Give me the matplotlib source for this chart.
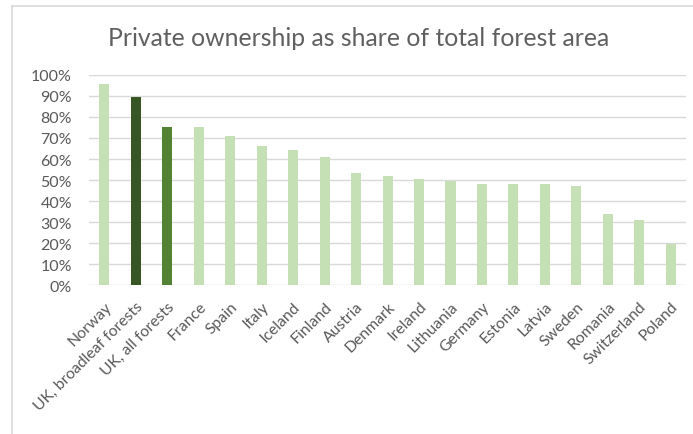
import matplotlib.pyplot as plt
from matplotlib.lines import Line2D
from matplotlib.ticker import PercentFormatter

# data
countries = [
    "Norway", "UK, broadleaf forests", "UK, all forests", "France", "Spain",
    "Italy", "Iceland", "Finland", "Austria", "Denmark", "Ireland",
    "Lithuania", "Germany", "Estonia", "Latvia", "Sweden", "Romania",
    "Switzerland", "Poland",
]
private_share = [
    0.957, 0.895, 0.752, 0.752, 0.710, 0.662, 0.643, 0.610, 0.533, 0.519,
    0.505, 0.497, 0.481, 0.481, 0.481, 0.471, 0.338, 0.310, 0.195,
]

LIGHT = "#c5e0b4"
DARK = "#375623"
MID = "#548235"
TEXT = "#595959"
GRID = "#d9d9d9"

plt.rcParams["font.family"] = ["Lato", "DejaVu Sans"]

colors = [LIGHT] * len(countries)
colors[1] = DARK
colors[2] = MID

fig = plt.figure(figsize=(6.93, 4.35), dpi=100)
ax = fig.add_axes([0.128, 0.3425, 0.8626, 0.4828])

x = range(len(countries))
ax.bar(x, private_share, width=0.32, color=colors, zorder=3)

ax.set_xlim(-0.5, len(countries) - 0.5)
ax.set_ylim(0, 1.0)
ax.set_yticks([i / 10 for i in range(11)])
ax.yaxis.set_major_formatter(PercentFormatter(1.0, decimals=0))
ax.grid(axis="y", color=GRID, linewidth=1, zorder=0)
ax.tick_params(axis="y", length=0, pad=12, labelsize=11.5, labelcolor=TEXT)
ax.tick_params(axis="x", length=0, pad=10, labelsize=11.3, labelcolor=TEXT)
ax.set_xticks(list(x))
ax.set_xticklabels(countries, rotation=45, ha="right", rotation_mode="anchor")
for s in ax.spines.values():
    s.set_visible(False)

fig.text(0.517, 0.912, "Private ownership as share of total forest area",
         ha="center", va="center", fontsize=17.8, color="#606060",
         fontweight=400)

# chart frame (only left and top edges are visible in the crop)
fig.add_artist(Line2D([12 / 693, 12 / 693], [0, 1 - 7 / 435],
                      color=GRID, linewidth=1.2, transform=fig.transFigure))
fig.add_artist(Line2D([12 / 693, 1], [1 - 7 / 435, 1 - 7 / 435],
                      color=GRID, linewidth=1.2, transform=fig.transFigure))

fig.savefig("out.png", dpi=100)
